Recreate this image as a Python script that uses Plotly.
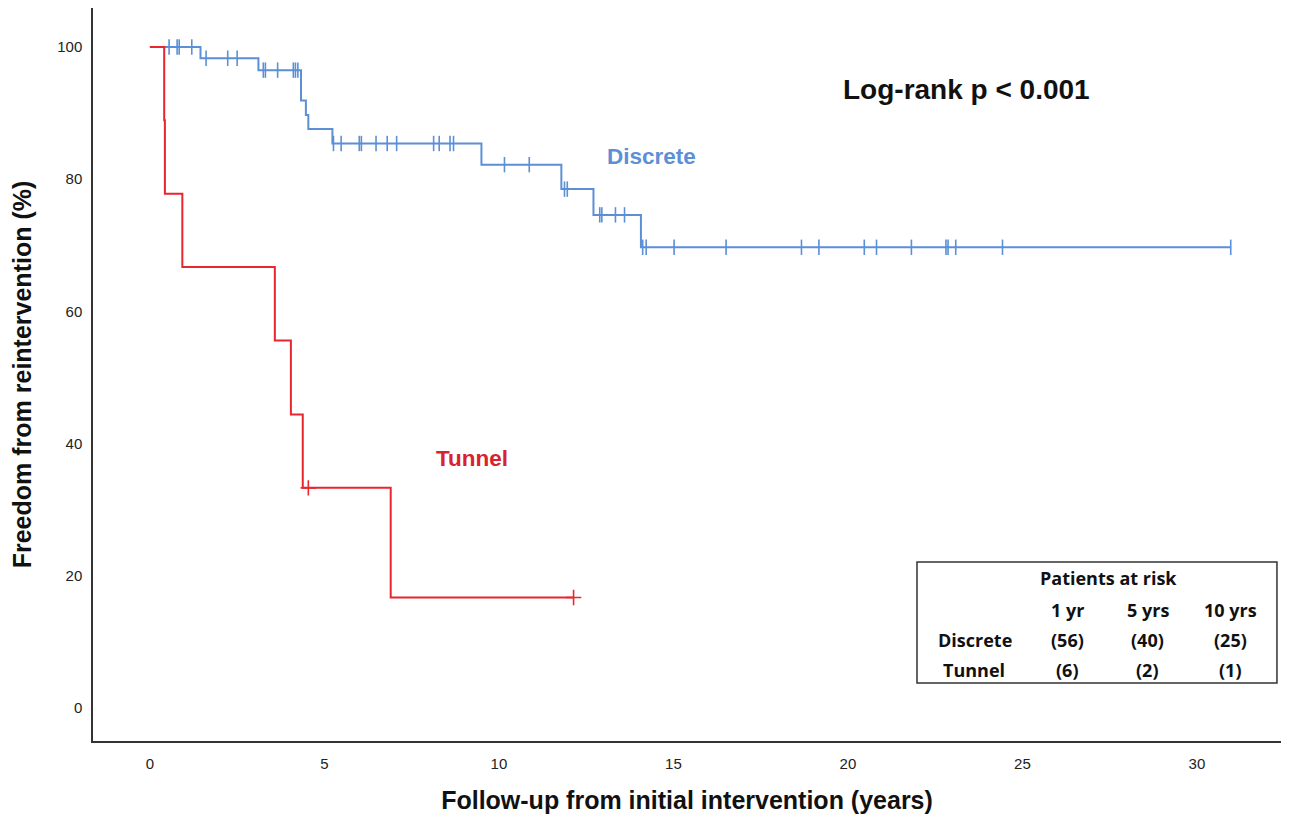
import plotly.graph_objects as go

# ---- Data ----
# Discrete group (Kaplan-Meier steps)
discrete_event_times = [1.45, 3.11, 4.33, 4.47, 4.54, 5.23, 9.50, 11.79, 12.71, 14.07]
discrete_survival = [98.3, 96.5, 91.9, 89.7, 87.6, 85.4, 82.2, 78.5, 74.6, 69.7]
discrete_censor_times = [0.55, 0.78, 0.84, 1.20, 1.61, 2.23, 2.50, 3.25, 3.31, 3.66,
                         4.11, 4.17, 4.24, 5.26, 5.48, 6.00, 6.06, 6.48, 6.80, 7.07,
                         8.13, 8.29, 8.60, 8.70, 10.16, 10.87, 11.88, 11.96, 12.89,
                         12.95, 13.34, 13.60, 14.12, 14.22, 15.02, 16.51, 18.67, 19.17,
                         20.47, 20.82, 21.82, 22.81, 22.87, 23.09, 24.43, 30.97]

# Tunnel group
tunnel_event_times = [0.41, 0.43, 0.93, 3.58, 4.04, 4.38, 6.90]
tunnel_survival = [88.9, 77.8, 66.7, 55.6, 44.4, 33.3, 16.7]
tunnel_censor_times = [4.54, 12.14]

x_ticks = [0, 5, 10, 15, 20, 25, 30]
y_ticks = [0, 20, 40, 60, 80, 100]

risk_columns = ["1 yr", "5 yrs", "10 yrs"]
risk_discrete = ["(56)", "(40)", "(25)"]
risk_tunnel = ["(6)", "(2)", "(1)"]

BLUE = "#5b8fd6"
RED = "#e8262e"
SANS = "Liberation Sans, Arial, sans-serif"


def step_value(t, times, surv):
    v = 100.0
    for tt, s in zip(times, surv):
        if t >= tt:
            v = s
    return v


def km_path(times, surv, end):
    xs = [0] + list(times) + [end]
    ys = [100] + list(surv) + [surv[-1]]
    return xs, ys


fig = go.Figure()

dx, dy = km_path(discrete_event_times, discrete_survival, max(discrete_censor_times))
tx, ty = km_path(tunnel_event_times, tunnel_survival, max(tunnel_censor_times))

fig.add_trace(go.Scatter(x=dx, y=dy, mode="lines", line=dict(color=BLUE, width=2, shape="hv"),
                         showlegend=False, hoverinfo="skip", cliponaxis=False))
fig.add_trace(go.Scatter(x=tx, y=ty, mode="lines", line=dict(color=RED, width=2, shape="hv"),
                         showlegend=False, hoverinfo="skip", cliponaxis=False))

fig.add_trace(go.Scatter(
    x=discrete_censor_times,
    y=[step_value(t, discrete_event_times, discrete_survival) for t in discrete_censor_times],
    mode="markers",
    marker=dict(symbol="line-ns", size=11, line=dict(color=BLUE, width=1.6)),
    showlegend=False, hoverinfo="skip", cliponaxis=False))
fig.add_trace(go.Scatter(
    x=tunnel_censor_times,
    y=[step_value(t, tunnel_event_times, tunnel_survival) for t in tunnel_censor_times],
    mode="markers",
    marker=dict(symbol="cross-thin", size=11, line=dict(color=RED, width=1.6)),
    showlegend=False, hoverinfo="skip", cliponaxis=False))

# ---- Annotations ----
ann = []
ann.append(dict(x=23.39, y=93.5, xref="x", yref="y", text="<b>Log-rank p < 0.001</b>",
                xanchor="center", yanchor="middle",
                showarrow=False, font=dict(family=SANS, size=28, color="#111111")))
ann.append(dict(x=14.36, y=83.5, xref="x", yref="y", text="<b>Discrete</b>",
                xanchor="center", yanchor="middle",
                showarrow=False, font=dict(family=SANS, size=22.5, color=BLUE)))
ann.append(dict(x=9.23, y=37.7, xref="x", yref="y", text="<b>Tunnel</b>",
                xanchor="center", yanchor="middle",
                showarrow=False, font=dict(family=SANS, size=22.5, color="#d8232f")))

tfont = dict(family="Open Sans, Liberation Sans, sans-serif", size=18, color="#111111")


def cell(x, y, text):
    return dict(x=x, y=y, xref="paper", yref="paper", text=f"<b>{text}</b>",
                xanchor="center", yanchor="middle", showarrow=False, font=tfont)


col_x = [0.8207, 0.8880, 0.9579]
ann.append(cell(0.8552, 0.2224, "Patients at risk"))
for cx, h, d, t in zip(col_x, risk_columns, risk_discrete, risk_tunnel):
    ann.append(cell(cx, 0.1787, h))
    ann.append(cell(cx, 0.1378, d))
    ann.append(cell(cx, 0.0969, t))
ann.append(cell(0.7424, 0.1378, "Discrete"))
ann.append(cell(0.7420, 0.0969, "Tunnel"))

fig.update_layout(
    width=1273, height=806,
    margin=dict(l=85, r=0, t=0, b=73),
    paper_bgcolor="white", plot_bgcolor="white",
    annotations=ann,
    shapes=[dict(type="rect", xref="paper", yref="paper", x0=0.6936, x1=0.9966, y0=0.0791, y1=0.2442,
                 line=dict(color="#333333", width=1.5), fillcolor="rgba(0,0,0,0)")],
    xaxis=dict(range=[-1.63, 32.41], tickvals=x_ticks, showgrid=False, zeroline=False,
               showline=True, linecolor="#333333", linewidth=1.5, ticks="", ticklabelstandoff=8,
               tickfont=dict(family=SANS, size=15, color="#222222"),
               title=dict(text="<b>Follow-up from initial intervention (years)</b>", standoff=26,
                          font=dict(family=SANS, size=25, color="#111111"))),
    yaxis=dict(range=[-5.0, 105.9], tickvals=y_ticks, showgrid=False, zeroline=False,
               showline=True, linecolor="#333333", linewidth=1.5, ticks="", ticklabelstandoff=6,
               tickfont=dict(family=SANS, size=15, color="#222222"),
               title=dict(text="<b>Freedom from reintervention (%)</b>", standoff=26,
                          font=dict(family=SANS, size=25, color="#111111"))),
)

fig.write_html("out.html")
